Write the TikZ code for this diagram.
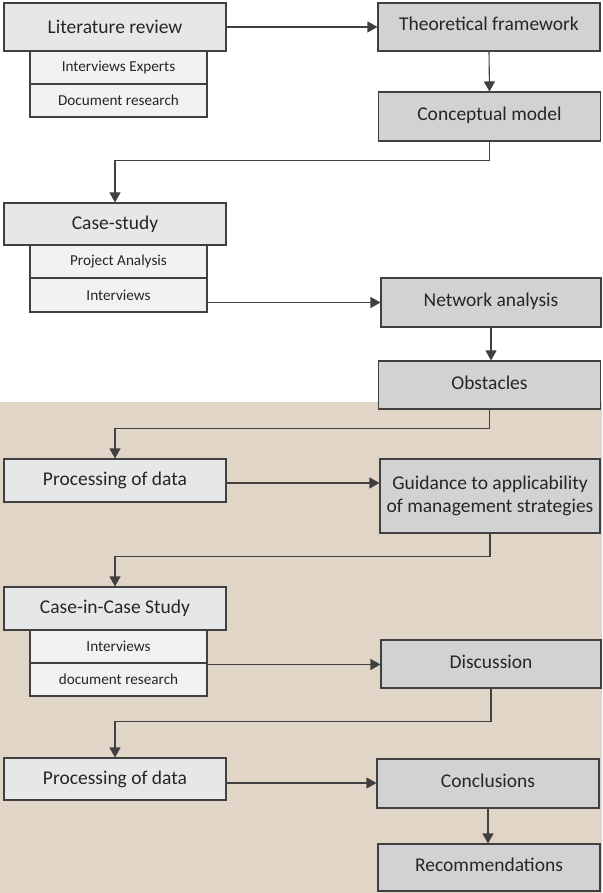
\documentclass[tikz,border=0pt]{standalone}
\usepackage{fontspec}
\setmainfont{Carlito}
\usetikzlibrary{arrows.meta}
\definecolor{bgbeige}{RGB}{224,213,198}
\definecolor{edge}{RGB}{64,64,64}
\definecolor{lightbox}{RGB}{230,231,233}
\definecolor{subfill}{RGB}{242,242,242}
\definecolor{darkbox}{RGB}{209,210,212}
\definecolor{ink}{RGB}{38,38,38}
\tikzset{
  box/.style={draw=edge, line width=1.1pt, inner sep=0pt, text=ink, align=center},
  leftbox/.style={box, fill=lightbox, minimum width=222pt, font=\fontsize{19.5}{23}\selectfont},
  subbox/.style={box, fill=subfill, minimum width=177pt, font=\fontsize{15.2}{18}\selectfont},
  rightbox/.style={box, fill=darkbox, minimum width=222pt, font=\fontsize{19.5}{23.5}\selectfont},
  highline/.style={text height=14pt, text depth=6pt},
  arr/.style={draw=edge, line width=1.1pt, -{Triangle[length=10pt,width=11pt]}}
}
\begin{document}
\begin{tikzpicture}[x=1pt,y=-1pt]
\useasboundingbox (0,0) rectangle (602,893);
\fill[bgbeige] (0,402) rectangle (602,893);

% left column
\node[leftbox, minimum height=48pt] (lit) at (115,27) {Literature review};
\node[subbox, minimum height=33pt] (litA) at (118.5,67.5) {Interviews Experts};
\node[subbox, minimum height=33pt] (litB) at (118.5,100.5) {Document research};

\node[leftbox, minimum height=42pt] (case) at (115,224) {Case-study};
\node[subbox, minimum height=33pt] (caseA) at (118.5,261.5) {Project Analysis};
\node[subbox, minimum height=34pt] (caseB) at (118.5,295) {Interviews};

\node[leftbox, minimum height=43pt] (proc1) at (115,480.5) {Processing of data};

\node[leftbox, minimum height=43pt] (cic) at (115,608.5) {Case-in-Case Study};
\node[subbox, minimum height=33pt] (cicA) at (118.5,646.5) {Interviews};
\node[subbox, minimum height=33pt] (cicB) at (118.5,679.5) {document research};

\node[leftbox, minimum height=42pt] (proc2) at (115,779) {Processing of data};

% right column
\node[rightbox, highline, minimum height=48pt] (theo) at (489,27) {Theoretical framework};
\node[rightbox, highline, minimum height=49pt] (concept) at (489.5,116.5) {Conceptual model};
\node[rightbox, highline, minimum height=49pt, minimum width=220pt] (net) at (491,302.5) {Network analysis};
\node[rightbox, highline, minimum height=48pt] (obst) at (489.5,385) {Obstacles};
\node[rightbox, minimum height=74pt, minimum width=220pt] (guid) at (490,496) {Guidance to applicability\\of management strategies};
\node[rightbox, highline, minimum height=48pt, minimum width=220pt] (disc) at (491,664) {Discussion};
\node[rightbox, highline, minimum height=49pt] (concl) at (488,783.5) {Conclusions};
\node[rightbox, highline, minimum height=47pt] (rec) at (489,867.5) {Recommendations};

% connectors
\draw[arr] (lit.east) -- (theo.west);
\draw[arr] (theo.south) -- (concept.north);
\draw[arr] (concept.south) -- ++(0,19) -| (case.north);
\draw[arr] (caseB.east |- net.west) -- (net.west);
\draw[arr] (net.south) -- (net.south |- obst.north);
\draw[arr] (obst.south) -- ++(0,19) -| (proc1.north);
\draw[arr] ([yshift=-2.5pt]proc1.east) -- ([yshift=-2.5pt]proc1.east -| guid.west);
\draw[arr] (guid.south) -- ++(0,23) -| (cic.north);
\draw[arr] ([yshift=-2pt]cicB.north east) -- ([yshift=-2pt]cicB.north east -| disc.west);
\draw[arr] (disc.south) -- ++(0,33) -| (proc2.north);
\draw[arr] ([yshift=-4pt]proc2.east) -- ([yshift=-4pt]proc2.east -| concl.west);
\draw[arr] (concl.south) -- (concl.south |- rec.north);
\end{tikzpicture}
\end{document}
